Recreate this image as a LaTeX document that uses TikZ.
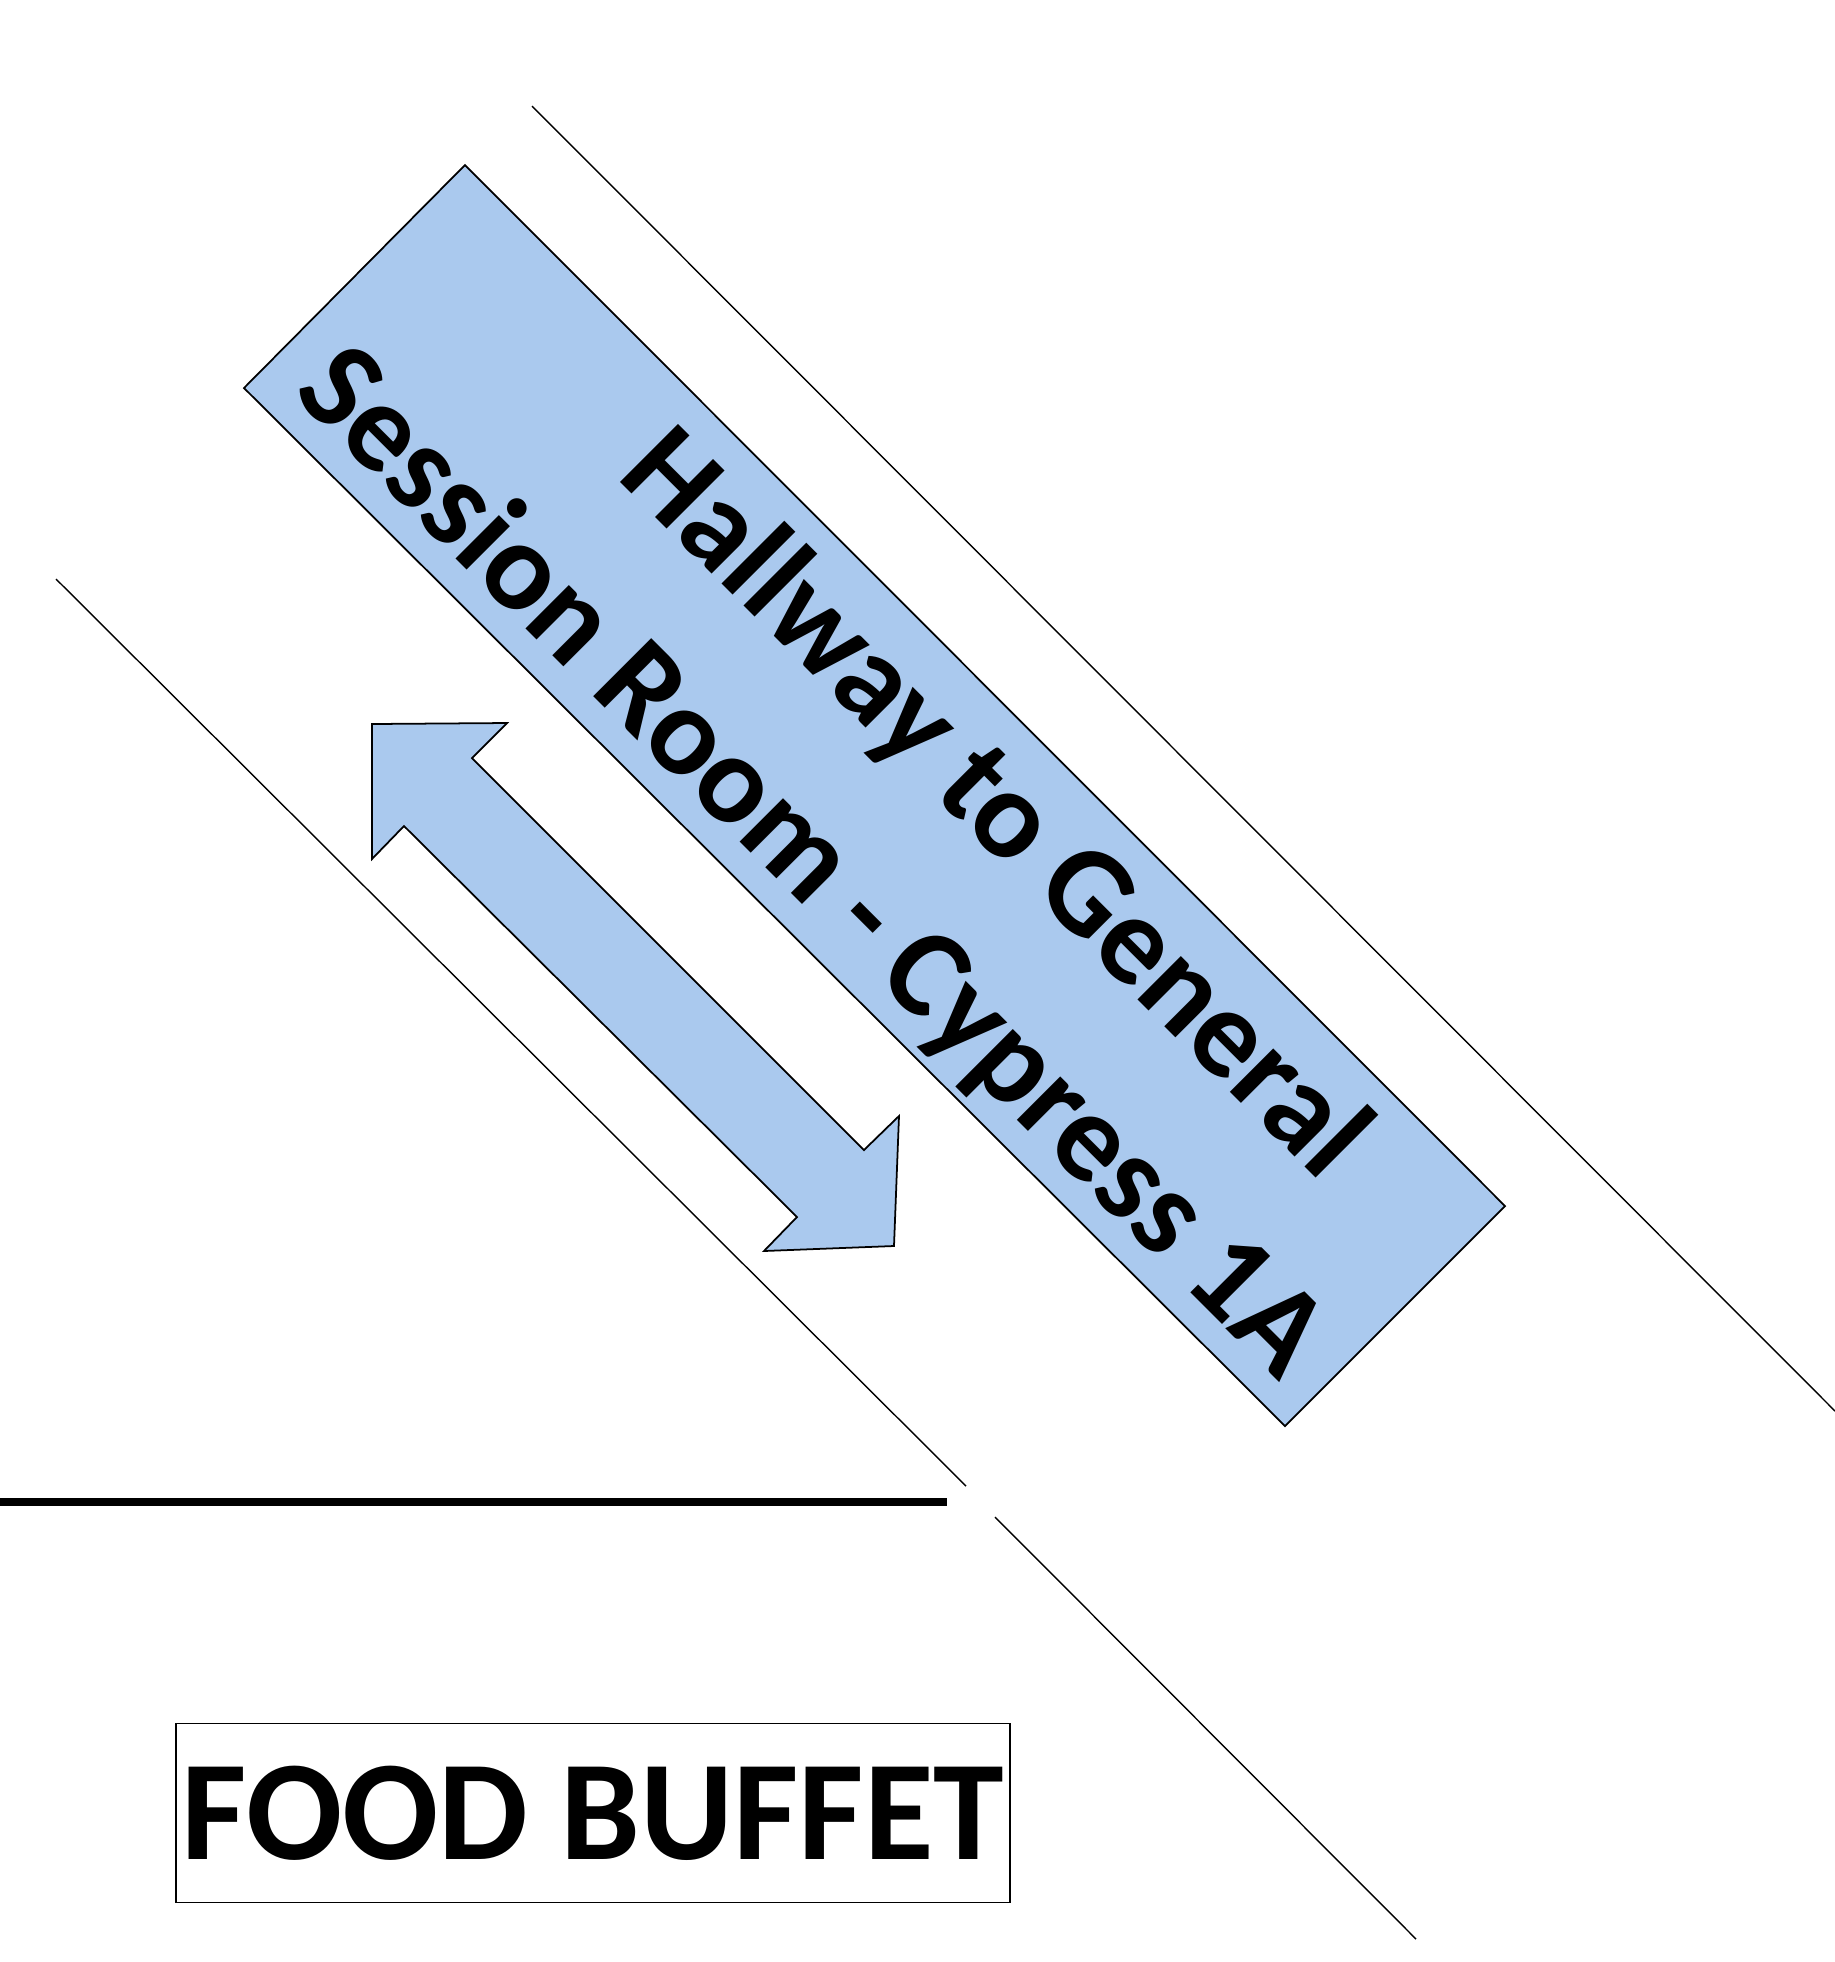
\documentclass[tikz,border=0pt]{standalone}
\usepackage{fontspec}
\setmainfont{Carlito}
\usepackage{xcolor}
\definecolor{hallblue}{RGB}{170,201,238}

\begin{document}
\begin{tikzpicture}[x=0.01cm, y=-0.01cm,
    wall/.style={line width=0.4pt},
    signtext/.style={font=\fontsize{36}{44}\selectfont\bfseries, rotate=-45, inner sep=0pt}]
  \useasboundingbox (0,0) rectangle (1835,1962);
  % hallway walls
  \draw [wall] (532,106) -- (1835,1411);
  \draw [wall] (56,579) -- (966,1486);
  \draw [wall] (995,1517) -- (1416,1939);
  \draw [line width=2.3pt] (0,1502) -- (947,1502);
  % hallway sign
  \draw [fill=hallblue, line width=0.5pt] (465,165) -- (1505,1206) -- (1285,1426) -- (244,388) -- cycle;
  \node (hallway) [signtext] at (993,806) {Hallway to General};
  \node (session) [signtext] at (810,864) {Session Room - Cypress 1A};
  % two-way arrow
  \draw [fill=hallblue, line width=0.5pt] (372,724) -- (507,723) -- (472,758) -- (864,1150) -- (899,1116)
        -- (894,1246) -- (764,1251) -- (797,1217) -- (404,826) -- (372,859) -- cycle;
  % buffet
  \node (buffet) [draw, line width=0.5pt, inner sep=0pt, minimum width=8.34cm, minimum height=1.79cm,
        font=\fontsize{40.5}{48}\selectfont\bfseries] at (593,1813) {FOOD BUFFET};
\end{tikzpicture}
\end{document}
